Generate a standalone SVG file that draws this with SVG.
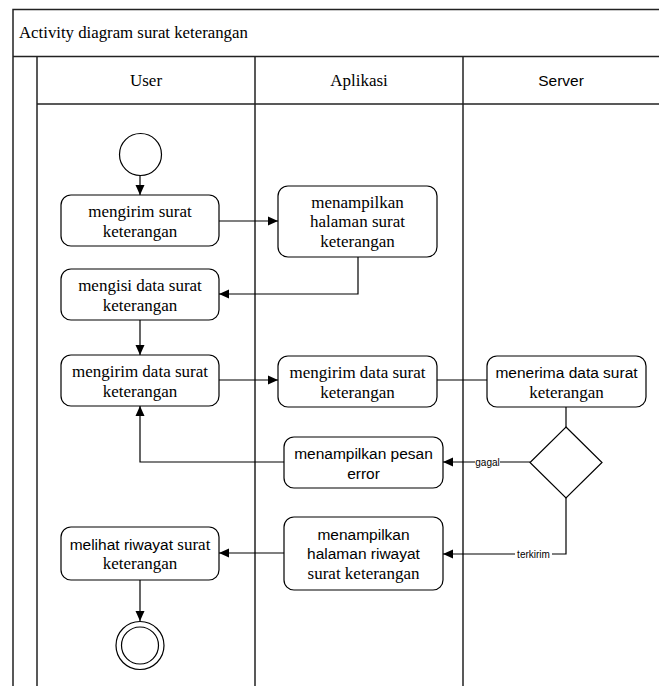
<svg xmlns="http://www.w3.org/2000/svg" width="659" height="686" viewBox="0 0 659 686">
  <defs>
    <marker id="arrow" viewBox="0 0 10 10" refX="10" refY="5" markerWidth="10" markerHeight="10" markerUnits="userSpaceOnUse" orient="auto">
      <path d="M0,0.5 L10,5 L0,9.5 Z" fill="#000"/>
    </marker>
    <style>
      .frame { fill: none; stroke: #222; stroke-width: 1.5; }
      .node { fill: #fff; stroke: #000; stroke-width: 1.2; }
      .edge { fill: none; stroke: #000; stroke-width: 1.2; }
      .serif { font-family: "Liberation Serif", "Times New Roman", serif; font-size: 17px; fill: #000; }
      .sans { font-family: "Liberation Sans", Arial, sans-serif; font-size: 15.5px; fill: #000; }
      .lbl { font-family: "Liberation Sans", Arial, sans-serif; font-size: 10px; fill: #000; }
      text { text-anchor: middle; }
    </style>
  </defs>
  <rect width="659" height="686" fill="#fff"/>

  <!-- swimlane frame -->
  <g id="frame">
    <path class="frame" d="M670,9.5 H13 V690"/>
    <line class="frame" x1="13" y1="56.5" x2="670" y2="56.5"/>
    <line class="frame" x1="37" y1="56.5" x2="37" y2="690"/>
    <line class="frame" x1="37" y1="104" x2="670" y2="104"/>
    <line class="frame" x1="255" y1="56.5" x2="255" y2="690"/>
    <line class="frame" x1="463" y1="56.5" x2="463" y2="690"/>
    <text class="serif" x="19" y="38" style="text-anchor:start;font-size:16.8px">Activity diagram surat keterangan</text>
    <text class="serif" x="146" y="86">User</text>
    <text class="serif" x="359" y="86">Aplikasi</text>
    <text class="sans" x="561" y="86">Server</text>
  </g>

  <g id="connectors">
    <line class="edge" x1="140" y1="175" x2="140" y2="195" marker-end="url(#arrow)"/>
    <line class="edge" x1="219" y1="221" x2="278" y2="221" marker-end="url(#arrow)"/>
    <polyline class="edge" points="358,257 358,294 219,294" marker-end="url(#arrow)"/>
    <line class="edge" x1="140" y1="320" x2="140" y2="355" marker-end="url(#arrow)"/>
    <line class="edge" x1="219" y1="380" x2="278" y2="380" marker-end="url(#arrow)"/>
    <line class="edge" x1="437" y1="380" x2="487" y2="380"/>
    <line class="edge" x1="566" y1="407" x2="566" y2="427"/>
    <line class="edge" x1="530" y1="462" x2="443" y2="462" marker-end="url(#arrow)"/>
    <polyline class="edge" points="284,462 140,462 140,406" marker-end="url(#arrow)"/>
    <polyline class="edge" points="566,498 566,554 443,554" marker-end="url(#arrow)"/>
    <line class="edge" x1="284" y1="553" x2="219" y2="553" marker-end="url(#arrow)"/>
    <line class="edge" x1="140" y1="580" x2="140" y2="621" marker-end="url(#arrow)"/>
    <rect x="475" y="456" width="25" height="12" fill="#fff"/>
    <text class="lbl" x="487.5" y="465.5">gagal</text>
    <rect x="515" y="548" width="37" height="12" fill="#fff"/>
    <text class="lbl" x="533.5" y="557.5">terkirim</text>
  </g>

  <g id="start">
    <circle class="node" cx="140.5" cy="154.5" r="21"/>
  </g>

  <g id="mengirim-surat">
    <rect class="node" x="61" y="195" width="158" height="51" rx="10"/>
    <text class="serif" x="140" y="217">mengirim surat</text>
    <text class="serif" x="140" y="236.5">keterangan</text>
  </g>

  <g id="tampil-halaman-surat">
    <rect class="node" x="278" y="186" width="159" height="71" rx="10"/>
    <text class="serif" x="357.5" y="207.5">menampilkan</text>
    <text class="serif" x="357.5" y="227">halaman surat</text>
    <text class="serif" x="357.5" y="246.5">keterangan</text>
  </g>

  <g id="mengisi-data">
    <rect class="node" x="61" y="269" width="158" height="51" rx="10"/>
    <text class="serif" x="140" y="291">mengisi data surat</text>
    <text class="serif" x="140" y="310.5">keterangan</text>
  </g>

  <g id="user-kirim-data">
    <rect class="node" x="61" y="355" width="158" height="51" rx="10"/>
    <text class="serif" x="140" y="377">mengirim data surat</text>
    <text class="serif" x="140" y="396.5">keterangan</text>
  </g>

  <g id="app-kirim-data">
    <rect class="node" x="278" y="356" width="159" height="51" rx="10"/>
    <text class="serif" x="357.5" y="378">mengirim data surat</text>
    <text class="serif" x="357.5" y="397.5">keterangan</text>
  </g>

  <g id="terima-data">
    <rect class="node" x="487" y="356" width="159" height="51" rx="10"/>
    <text class="sans" x="566.5" y="378">menerima data surat</text>
    <text class="serif" x="566.5" y="397.5">keterangan</text>
  </g>

  <g id="keputusan">
    <polygon class="node" points="566,427 602,462.5 566,498 530,462.5"/>
  </g>

  <g id="pesan-error">
    <rect class="node" x="284" y="437" width="159" height="51" rx="10"/>
    <text class="sans" x="363.5" y="459">menampilkan pesan</text>
    <text class="sans" x="363.5" y="478.5">error</text>
  </g>

  <g id="tampil-riwayat">
    <rect class="node" x="284" y="517" width="159" height="73" rx="10"/>
    <text class="sans" x="363.5" y="539.5">menampilkan</text>
    <text class="sans" x="363.5" y="559">halaman riwayat</text>
    <text class="serif" x="363.5" y="578.5">surat keterangan</text>
  </g>

  <g id="lihat-riwayat">
    <rect class="node" x="61" y="527" width="158" height="53" rx="10"/>
    <text x="140" y="549.5"><tspan class="sans">melihat riwayat </tspan><tspan class="serif">surat</tspan></text>
    <text class="serif" x="140" y="569">keterangan</text>
  </g>

  <g id="end">
    <circle class="node" cx="140" cy="645.5" r="24"/>
    <circle class="node" cx="140" cy="645.5" r="18.5"/>
  </g>
</svg>
